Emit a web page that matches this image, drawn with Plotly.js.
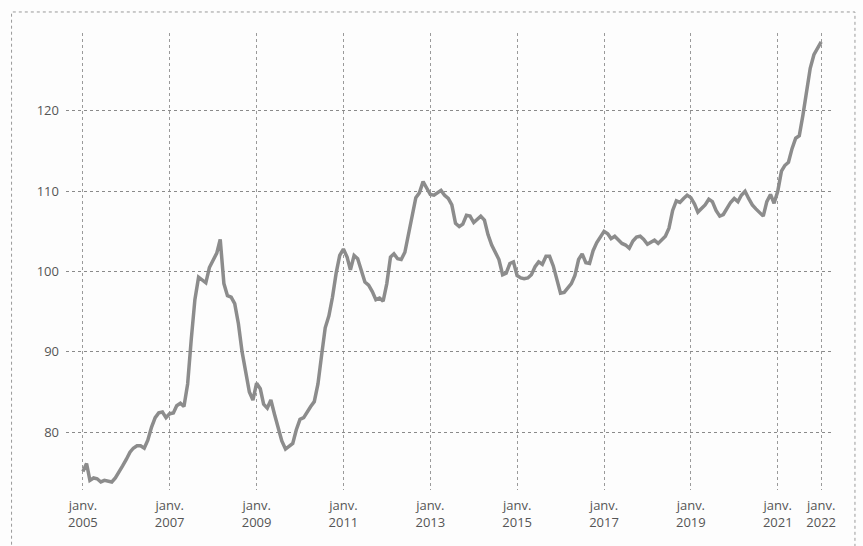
<!DOCTYPE html>
<html>
<head>
<meta charset="utf-8">
<script src="https://cdn.plot.ly/plotly-3.0.1.min.js"></script>
<style>
html, body { margin: 0; padding: 0; background: #fdfdfd; overflow: hidden; }
#chart { width: 863px; height: 546px; }
</style>
</head>
<body>
<div id="chart"></div>
<script>
// Monthly index values, January of each year onward
const startYear = 2005;
const v2005 = [75.1, 76.1, 74.0, 74.3, 74.2, 73.8, 74.0, 73.9, 73.8, 74.3, 75.0, 75.8];
const v2006 = [76.6, 77.5, 78.0, 78.3, 78.3, 78.0, 79.0, 80.6, 81.8, 82.4, 82.5, 81.8];
const v2007 = [82.3, 82.4, 83.3, 83.6, 83.2, 86.0, 91.5, 96.5, 99.3, 99.0, 98.6, 100.5];
const v2008 = [101.4, 102.3, 104.0, 98.5, 97.0, 96.8, 96.0, 93.5, 90.0, 87.3, 85.0, 84.0];
const v2009 = [86.1, 85.4, 83.5, 83.0, 84.0, 82.2, 80.5, 78.9, 77.9, 78.2, 78.6, 80.3];
const v2010 = [81.6, 81.8, 82.5, 83.2, 83.8, 86.0, 89.5, 93.0, 94.5, 96.8, 99.8, 102.0];
const v2011 = [102.8, 101.8, 100.2, 102.0, 101.6, 100.2, 98.7, 98.3, 97.5, 96.5, 96.7, 96.3];
const v2012 = [98.5, 101.8, 102.2, 101.6, 101.5, 102.4, 104.6, 106.9, 109.2, 109.8, 111.2, 110.4];
const v2013 = [109.6, 109.5, 109.8, 110.1, 109.5, 109.1, 108.3, 106.0, 105.6, 105.9, 107.0, 106.9];
const v2014 = [106.1, 106.6, 106.9, 106.4, 104.6, 103.3, 102.5, 101.5, 99.6, 99.8, 101.0, 101.2];
const v2015 = [99.5, 99.2, 99.1, 99.2, 99.6, 100.6, 101.2, 100.9, 101.9, 101.9, 100.7, 99.0];
const v2016 = [97.3, 97.4, 98.0, 98.5, 99.5, 101.5, 102.2, 101.1, 101.0, 102.6, 103.6, 104.2];
const v2017 = [105.0, 104.7, 104.1, 104.4, 104.0, 103.5, 103.3, 102.9, 103.8, 104.3, 104.4, 104.0];
const v2018 = [103.4, 103.7, 103.9, 103.5, 103.9, 104.4, 105.4, 107.6, 108.8, 108.6, 109.1, 109.5];
const v2019 = [109.2, 108.4, 107.4, 107.8, 108.3, 109.0, 108.7, 107.6, 106.9, 107.1, 107.9, 108.6];
const v2020 = [109.1, 108.7, 109.5, 110.0, 109.1, 108.3, 107.8, 107.4, 106.9, 108.7, 109.6, 108.5];
const v2021 = [110.0, 112.5, 113.2, 113.6, 115.3, 116.6, 116.9, 119.5, 122.4, 125.3, 127.0, 127.9];
const v2022 = [128.6];

const yearly = [v2005, v2006, v2007, v2008, v2009, v2010, v2011, v2012, v2013, v2014, v2015, v2016, v2017, v2018, v2019, v2020, v2021, v2022];

const tickYears = [2005, 2007, 2009, 2011, 2013, 2015, 2017, 2019, 2021, 2022];
const yTicks = [80, 90, 100, 110, 120];

const dates = [];
const values = [];
yearly.forEach((arr, i) => {
  arr.forEach((v, j) => {
    const mm = String(j + 1).padStart(2, '0');
    dates.push((startYear + i) + '-' + mm + '-01');
    values.push(v);
  });
});

const trace = {
  x: dates,
  y: values,
  type: 'scatter',
  mode: 'lines',
  line: { color: '#8c8c8c', width: 3.5 },
  hoverinfo: 'x+y'
};

const fontFam = '"Open Sans", "Noto Sans", sans-serif';

const layout = {
  width: 863,
  height: 546,
  paper_bgcolor: '#fdfdfd',
  plot_bgcolor: '#fdfdfd',
  margin: { l: 65.5, r: 29, t: 33, b: 56 },
  showlegend: false,
  font: { family: fontFam, size: 13, color: '#555555' },
  xaxis: {
    type: 'date',
    range: ['2004-08-12', '2022-04-19'],
    tickvals: tickYears.map(y => y + '-01-01'),
    ticktext: tickYears.map(y => 'janv.<br>' + y),
    showgrid: true,
    gridcolor: '#9a9a9a',
    griddash: 'dot',
    gridwidth: 1,
    zeroline: false,
    showline: false,
    ticks: '',
    ticklabelstandoff: 6,
    tickfont: { family: fontFam, size: 13, color: '#555555' }
  },
  yaxis: {
    range: [72.8, 129.7],
    tickvals: yTicks,
    ticktext: yTicks.map(String),
    showgrid: true,
    gridcolor: '#8a8a8a',
    griddash: 'dot',
    gridwidth: 1,
    zeroline: false,
    showline: false,
    ticks: '',
    ticklabelstandoff: 6,
    tickfont: { family: fontFam, size: 13, color: '#555555' }
  },
  shapes: [{
    type: 'rect',
    xref: 'paper', yref: 'paper',
    x0: -0.0709, x1: 1.0273,
    y0: -0.13, y1: 1.046,
    line: { color: '#9a9a9a', width: 1, dash: 'dot' },
    fillcolor: 'rgba(0,0,0,0)',
    layer: 'below'
  }]
};

Plotly.newPlot('chart', [trace], layout, { displayModeBar: false, staticPlot: true });
</script>
</body>
</html>
